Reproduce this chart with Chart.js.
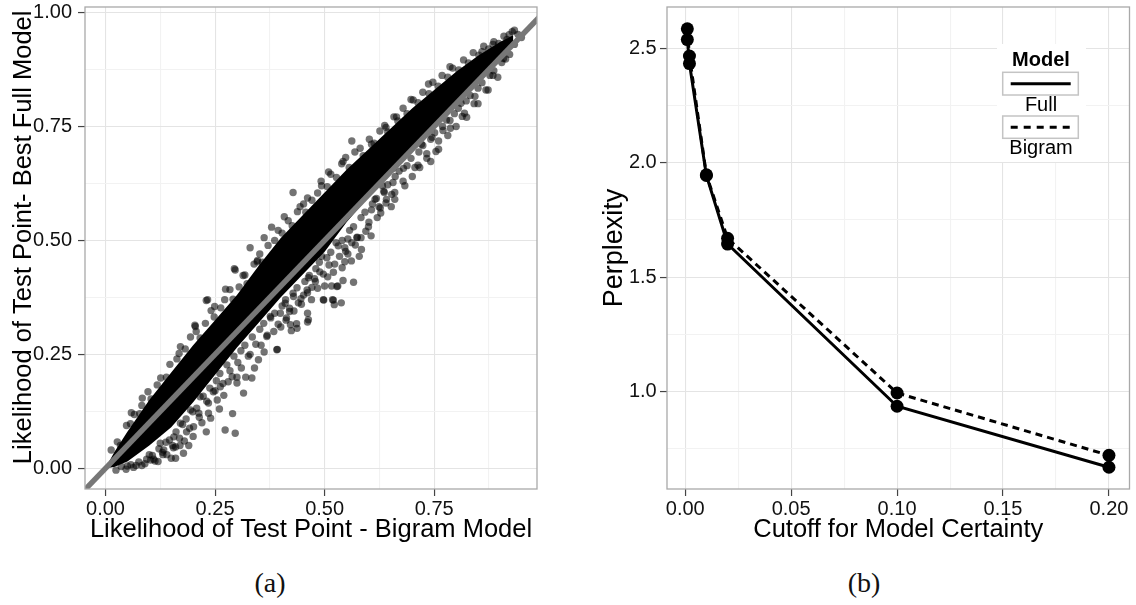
<!DOCTYPE html>
<html>
<head>
<meta charset="utf-8">
<script src="https://cdn.jsdelivr.net/npm/chart.js@4.4.1/dist/chart.umd.min.js"></script>
<style>
  body { margin: 0; background: #fff; width: 1136px; height: 605px; position: relative; overflow: hidden; }
  canvas { position: absolute; top: 0; }
  #scatter { left: 0; }
  #perplexity { left: 560px; }
  .caption { position: absolute; top: 566px; line-height: 34px; font-family: "Liberation Serif", serif; font-size: 28px; color: #111; transform: translateX(-50%); }
</style>
</head>
<body>
<canvas id="scatter" width="560" height="545"></canvas>
<canvas id="perplexity" width="576" height="545"></canvas>
<div class="caption" style="left:270px">(a)</div>
<div class="caption" style="left:864px">(b)</div>
<script>
// (a) each test point: [likelihood under bigram model, likelihood under best full model]
// only the points that stand apart from the solid cloud are listed one by one
const testPoints = [
  // lower-left, below the diagonal
  [0.05,0.005],[0.07,0.006],[0.09,0.01],[0.11,0.02],[0.12,0.015],[0.1,0.03],[0.13,0.035],[0.14,0.03],
  [0.16,0.022],[0.155,0.045],[0.17,0.05],[0.18,0.06],[0.178,0.033],[0.15,0.022],[0.103,0.018],
  [0.273,0.084],[0.296,0.077],[0.213,0.121],[0.235,0.121],[0.201,0.091],[0.185,0.08],[0.16,0.047],
  [0.133,0.04],[0.391,0.26],[0.368,0.289],[0.349,0.238],[0.334,0.198],[0.315,0.165],[0.289,0.201],
  [0.3,0.187],[0.262,0.179],[0.255,0.15],[0.235,0.143],[0.216,0.157],[0.194,0.128],[0.171,0.099],
  [0.156,0.069],[0.125,0.055],[0.437,0.307],[0.422,0.315],[0.463,0.326],[0.498,0.369],[0.52,0.369],
  [0.528,0.399],[0.479,0.41],[0.46,0.391],[0.429,0.377],[0.41,0.362],[0.399,0.34],[0.376,0.333],
  [0.28,0.19],[0.27,0.16],[0.25,0.17],[0.3,0.2],[0.31,0.22],[0.32,0.2],[0.34,0.22],[0.29,0.12],
  [0.26,0.13],[0.24,0.11],[0.22,0.1],[0.2,0.07],[0.19,0.05],[0.23,0.08],
  // middle, below the diagonal
  [0.497,0.37],[0.518,0.37],[0.522,0.359],[0.538,0.363],[0.53,0.4],[0.542,0.412],[0.566,0.408],
  [0.546,0.453],[0.534,0.465],[0.579,0.465],[0.546,0.484],[0.562,0.495],[0.526,0.495],[0.51,0.446],
  [0.489,0.431],[0.477,0.416],[0.461,0.385],[0.44,0.363],[0.42,0.351],[0.412,0.325],[0.461,0.321],
  [0.461,0.34],[0.436,0.317],[0.392,0.261],[0.424,0.302],[0.465,0.423],[0.493,0.465],[0.574,0.506],
  [0.583,0.506],[0.553,0.503],
  [0.33,0.25],[0.355,0.27],[0.362,0.255],[0.384,0.3],[0.4,0.31],[0.413,0.33],[0.43,0.345],[0.447,0.36],
  [0.452,0.38],[0.47,0.37],[0.484,0.395],[0.5,0.4],[0.507,0.42],[0.52,0.43],[0.516,0.4],[0.54,0.44],
  [0.553,0.47],[0.561,0.455],[0.57,0.49],[0.584,0.48],[0.594,0.52],[0.6,0.53],[0.606,0.51],[0.62,0.55],
  [0.628,0.56],[0.641,0.59],[0.66,0.59],[0.683,0.62],[0.7,0.64],[0.717,0.66],[0.733,0.68],[0.76,0.7],
  [0.781,0.73],[0.8,0.75],[0.824,0.77],[0.85,0.8],[0.873,0.83],
  // above the cloud
  [0.059,0.122],[0.084,0.154],[0.171,0.267],[0.23,0.368],[0.205,0.311],[0.296,0.435],[0.346,0.453],
  [0.233,0.37],[0.294,0.438],[0.347,0.456],[0.362,0.506],[0.408,0.552],[0.428,0.605],[0.461,0.593],
  [0.509,0.65],[0.562,0.718],[0.64,0.748],[0.664,0.771],[0.697,0.809],[0.737,0.843],[0.786,0.881],
  [0.859,0.914],[0.916,0.941],[0.933,0.961],[0.884,0.93],[0.314,0.423],[0.274,0.393],[0.249,0.355],
  [0.204,0.314],[0.33,0.484],[0.379,0.529],[0.444,0.574],[0.493,0.62],[0.542,0.673],[0.607,0.711],
  // upper right, below the diagonal
  [0.632,0.62],[0.636,0.605],[0.64,0.582],[0.652,0.574],[0.656,0.627],[0.66,0.605],[0.624,0.574],
  [0.607,0.567],[0.615,0.59],[0.656,0.658],[0.648,0.673],[0.68,0.658],[0.697,0.703],[0.713,0.665],
  [0.742,0.673],[0.754,0.695],[0.721,0.711],[0.745,0.726],[0.77,0.741],[0.786,0.763],[0.819,0.779],
  [0.811,0.801],[0.843,0.816],[0.827,0.839],[0.884,0.862],[0.859,0.877],[0.908,0.899],[0.933,0.93],
  [0.949,0.945],[0.941,0.952],[0.77,0.801],[0.672,0.733],[0.607,0.635],
  // upper edge of the cloud
  [0.013,0.04],[0.027,0.058],[0.034,0.05],[0.048,0.094],[0.057,0.098],[0.066,0.118],[0.078,0.12],
  [0.083,0.138],[0.097,0.168],[0.104,0.152],[0.118,0.183],[0.126,0.198],[0.139,0.2],[0.147,0.228],
  [0.163,0.24],[0.168,0.252],[0.182,0.262],[0.194,0.288],[0.207,0.3],[0.216,0.286],[0.228,0.318],
  [0.241,0.346],[0.248,0.332],[0.263,0.352],[0.272,0.37],[0.284,0.392],[0.291,0.371],[0.305,0.398],
  [0.318,0.424],[0.323,0.405],[0.339,0.448],[0.352,0.47],[0.358,0.452],[0.371,0.489],[0.386,0.5],
  [0.394,0.522],[0.403,0.516],[0.417,0.543],[0.426,0.532],[0.438,0.563],[0.452,0.58],[0.457,0.562],
  [0.471,0.588],[0.484,0.604],[0.492,0.63],[0.506,0.618],[0.514,0.645],[0.527,0.638],[0.539,0.668],
  [0.548,0.682],[0.556,0.66],[0.569,0.694],[0.581,0.702],[0.588,0.686],[0.602,0.722],[0.613,0.713],
  [0.626,0.74],[0.637,0.752],[0.644,0.738],[0.658,0.771],[0.667,0.762],[0.679,0.79],[0.688,0.778],
  [0.702,0.808],[0.713,0.802],[0.724,0.825],[0.738,0.822],[0.747,0.847],[0.759,0.838],[0.768,0.862],
  [0.781,0.858],[0.792,0.878],[0.806,0.874],[0.817,0.896],[0.828,0.889],[0.839,0.912],[0.852,0.906],
  [0.863,0.926],[0.874,0.92],[0.886,0.936],[0.897,0.932],[0.909,0.948],[0.921,0.951],[0.928,0.958],
  // lower edge of the cloud
  [0.024,-0.004],[0.036,0.004],[0.047,-0.002],[0.058,0.008],[0.064,0.002],[0.076,0.014],[0.083,0.006],
  [0.094,0.02],[0.107,0.028],[0.113,0.016],[0.122,0.043],[0.131,0.03],[0.138,0.057],[0.146,0.062],
  [0.153,0.05],[0.161,0.08],[0.169,0.066],[0.176,0.096],[0.184,0.108],[0.192,0.088],[0.199,0.124],
  [0.208,0.132],[0.214,0.112],[0.223,0.158],[0.231,0.147],[0.238,0.176],[0.246,0.168],[0.253,0.192],
  [0.261,0.208],[0.268,0.186],[0.277,0.227],[0.284,0.214],[0.293,0.246],[0.302,0.232],[0.309,0.258],
  [0.318,0.27],[0.326,0.246],[0.335,0.288],[0.343,0.272],[0.352,0.305],[0.361,0.318],[0.369,0.292],
  [0.377,0.33],[0.386,0.34],[0.394,0.316],[0.403,0.356],[0.411,0.37],[0.42,0.344],[0.428,0.384],
  [0.437,0.396],[0.446,0.372],[0.455,0.41],[0.463,0.418],[0.471,0.397],[0.48,0.438],[0.488,0.452],
  [0.497,0.426],[0.505,0.462],[0.514,0.474],[0.523,0.448],[0.531,0.488],[0.54,0.5],[0.548,0.476],
  [0.557,0.522],[0.566,0.53],[0.574,0.507],[0.583,0.55],[0.592,0.562],[0.601,0.54],[0.609,0.58],
  [0.618,0.592],[0.627,0.571],[0.635,0.608],[0.644,0.622],[0.653,0.601],[0.661,0.64],[0.67,0.652],
  [0.679,0.63],[0.688,0.664],[0.697,0.68],[0.706,0.66],[0.715,0.694],[0.724,0.708],[0.733,0.69],
  [0.742,0.722],[0.751,0.736],[0.76,0.718],[0.769,0.75],[0.778,0.764],[0.787,0.746],[0.796,0.778],
  [0.805,0.79],[0.814,0.772],[0.823,0.806],[0.832,0.818],[0.841,0.8],[0.85,0.834],[0.859,0.846],
  [0.868,0.83],[0.877,0.862],[0.886,0.872],[0.895,0.858],[0.904,0.89],[0.913,0.898],[0.922,0.908],
];

// the dense middle of the cloud, where the points merge into solid black
const coreBigram    = [0, 0.02, 0.05, 0.1,   0.15,  0.2,  0.25,  0.3,  0.35,  0.4,   0.45,  0.5,   0.55,  0.6,  0.65,  0.7,   0.75,  0.8,   0.85, 0.9,  0.93];
const coreFullUpper = [0, 0.035, 0.08, 0.15, 0.21,  0.27, 0.325, 0.38, 0.445, 0.505, 0.555, 0.605, 0.655, 0.7,  0.745, 0.79,  0.83,  0.87,  0.905, 0.935, 0.95];
const coreFullLower = [0, 0.003, 0.015, 0.05, 0.09, 0.145, 0.205, 0.265, 0.32, 0.375, 0.425, 0.475, 0.54, 0.595, 0.648, 0.7,  0.75,  0.8,   0.85, 0.9,  0.935];

// (b) perplexity against the cutoff for model certainty
const cutoffs = [0.001, 0.002, 0.01, 0.02, 0.1, 0.2];
const perplexityFull = [2.54, 2.435, 1.945, 1.645, 0.935, 0.668];
const perplexityBigram = [2.587, 2.468, 1.948, 1.67, 0.993, 0.72];

// ticks: major ones carry a label, minor ones only a faint grid line
const likelihoodTicks = [0, 0.125, 0.25, 0.375, 0.5, 0.625, 0.75, 0.875, 1];
const likelihoodLabels = ['0.00', '', '0.25', '', '0.50', '', '0.75', '', '1.00'];
const cutoffTicks = [0, 0.025, 0.05, 0.075, 0.1, 0.125, 0.15, 0.175, 0.2];
const cutoffLabels = ['0.00', '', '0.05', '', '0.10', '', '0.15', '', '0.20'];
const perplexityTicks = [0.75, 1, 1.25, 1.5, 1.75, 2, 2.25, 2.5];
const perplexityLabels = ['', '1.0', '', '1.5', '', '2.0', '', '2.5'];

const FONT = '"Liberation Sans", Arial, sans-serif';

function ggAxis({ min, max, ticks, labels, title, size, labelPad, titlePad, titleSize = 25.5 }) {
  const label = v => labels[ticks.indexOf(v)] || '';
  return {
    type: 'linear',
    min, max,
    afterBuildTicks: s => { s.ticks = ticks.filter(v => v >= min && v <= max).map(v => ({ value: v })); },
    afterFit: s => {
      if (s.isHorizontal()) s.height = size; else s.width = size;
      s.paddingTop = s.paddingBottom = s.paddingLeft = s.paddingRight = 0;
    },
    ticks: {
      autoSkip: false, maxRotation: 0, padding: labelPad,
      callback: v => label(v),
      font: { family: FONT, size: 20 },
      color: '#111',
    },
    grid: {
      color: c => (c.tick && label(c.tick.value) ? '#e4e4e4' : '#f2f2f2'),
      tickColor: c => (c.tick && label(c.tick.value) ? '#444' : 'rgba(0,0,0,0)'),
      lineWidth: 1.1, tickWidth: 1.2, tickLength: 7,
    },
    border: { display: false },
    title: { display: true, text: title, color: '#000', font: { family: FONT, size: titleSize }, padding: titlePad },
  };
}

// ggplot-style grey frame round the panel
const panelBorder = {
  id: 'panelBorder',
  afterDatasetsDraw(chart) {
    const { ctx, chartArea: a } = chart;
    ctx.save();
    ctx.strokeStyle = '#a9a9a9';
    ctx.lineWidth = 1.3;
    ctx.strokeRect(a.left, a.top, a.right - a.left, a.bottom - a.top);
    ctx.restore();
  },
};

const corePolygon = coreBigram.map((x, i) => ({ x, y: coreFullUpper[i] }))
  .concat(coreBigram.map((x, i) => ({ x, y: coreFullLower[i] })).reverse());

new Chart(document.getElementById('scatter'), {
  type: 'scatter',
  data: {
    datasets: [
      {
        // y = x reference line
        type: 'line',
        data: [{ x: -0.1, y: -0.1 }, { x: 1.1, y: 1.1 }],
        borderColor: '#777',
        borderWidth: 5.5,
        pointRadius: 0,
        clip: 0,
      },
      {
        data: testPoints.map(([x, y]) => ({ x, y })),
        pointRadius: 3.7,
        backgroundColor: 'rgba(0,0,0,0.55)',
        borderWidth: 0,
      },
      {
        type: 'line',
        data: corePolygon,
        fill: 'shape',
        backgroundColor: '#000',
        borderColor: 'rgba(0,0,0,0)',
        borderWidth: 1,
        pointRadius: 0,
        tension: 0,
      },
    ],
  },
  options: {
    responsive: false,
    animation: false,
    layout: { padding: { top: 7, right: 23, left: 0, bottom: 0 } },
    plugins: { legend: { display: false }, tooltip: { enabled: false } },
    scales: {
      x: ggAxis({ min: -0.0467, max: 0.9845, ticks: likelihoodTicks, labels: likelihoodLabels,
        title: 'Likelihood of Test Point - Bigram Model', size: 56, labelPad: 1, titlePad: { top: 0, bottom: 0 } }),
      y: ggAxis({ min: -0.0454, max: 1.012, ticks: likelihoodTicks, labels: likelihoodLabels,
        title: '   Likelihood of Test Point- Best Full Model', size: 85, labelPad: 6, titlePad: { top: 8.7, bottom: 0 } }),
    },
  },
  plugins: [panelBorder],
});

// legend drawn inside the panel like ggplot's
const modelLegend = {
  id: 'modelLegend',
  afterDraw(chart) {
    const ctx = chart.ctx;
    const cx = 481;
    ctx.save();
    ctx.fillStyle = '#fff';
    ctx.fillRect(437, 44, 89, 118);
    ctx.fillStyle = '#000';
    ctx.textAlign = 'center';
    ctx.textBaseline = 'middle';
    ctx.font = 'bold 20px ' + FONT;
    ctx.fillText('Model', cx, 60);
    ctx.font = '20px ' + FONT;
    ctx.fillText('Full', cx, 105);
    ctx.fillText('Bigram', cx, 148);
    ctx.strokeStyle = '#c4c4c4';
    ctx.lineWidth = 1.5;
    ctx.strokeRect(442.7, 72.3, 75.6, 22.7);
    ctx.strokeRect(442.7, 116, 75.6, 22.3);
    ctx.strokeStyle = '#000';
    ctx.lineWidth = 3;
    ctx.beginPath();
    ctx.moveTo(450.7, 83.7);
    ctx.lineTo(510.7, 83.7);
    ctx.stroke();
    ctx.setLineDash([7, 6]);
    ctx.beginPath();
    ctx.moveTo(450.7, 127.2);
    ctx.lineTo(510.7, 127.2);
    ctx.stroke();
    ctx.restore();
  },
};

new Chart(document.getElementById('perplexity'), {
  type: 'line',
  data: {
    datasets: [
      {
        label: 'Full',
        data: cutoffs.map((x, i) => ({ x, y: perplexityFull[i] })),
        borderColor: '#000',
        borderWidth: 3,
        pointRadius: 6.5,
        pointBackgroundColor: '#000',
        pointBorderWidth: 0,
        tension: 0,
      },
      {
        label: 'Bigram',
        data: cutoffs.map((x, i) => ({ x, y: perplexityBigram[i] })),
        borderColor: '#000',
        borderWidth: 3,
        borderDash: [7, 5],
        pointRadius: 6.5,
        pointBackgroundColor: '#000',
        pointBorderWidth: 0,
        tension: 0,
      },
    ],
  },
  options: {
    responsive: false,
    animation: false,
    layout: { padding: { top: 7, right: 3, left: 0, bottom: 0 } },
    plugins: { legend: { display: false }, tooltip: { enabled: false } },
    scales: {
      x: ggAxis({ min: -0.0086, max: 0.2097, ticks: cutoffTicks, labels: cutoffLabels,
        title: 'Cutoff for Model Certainty', size: 56, labelPad: 1, titlePad: { top: 0, bottom: 0 } }),
      y: ggAxis({ min: 0.5727, max: 2.6826, ticks: perplexityTicks, labels: perplexityLabels,
        title: 'Perplexity', size: 107, labelPad: 3.3, titlePad: { top: 38, bottom: 0 }, titleSize: 27 }),
    },
  },
  plugins: [panelBorder, modelLegend],
});
</script>
</body>
</html>
